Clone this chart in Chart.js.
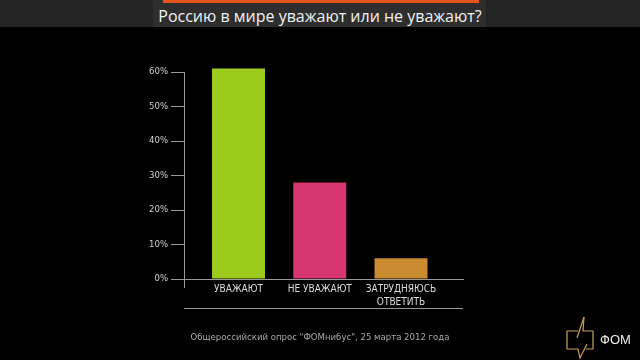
<!DOCTYPE html>
<html lang="ru">
<head>
<meta charset="utf-8">
<title>Россию в мире уважают или не уважают?</title>
<script src="https://cdn.jsdelivr.net/npm/chart.js@4"></script>
<style>
  html, body { margin: 0; padding: 0; background: #000; }
  #stage { position: relative; width: 640px; height: 360px; overflow: hidden; background: #000; }
  #chart { position: absolute; left: 0; top: 0; }
  .band { position: absolute; left: 0; top: 0; width: 640px; height: 27px; background: #252525; }
  .box { position: absolute; left: 153px; top: 0; width: 333px; height: 27px; background: #2e2e2e; }
  .accent { position: absolute; left: 163px; top: 0; width: 316px; height: 3px; background: #e4541c; }
  .title { position: absolute; left: 0; top: 4px; width: 640px; text-align: center; color: #f2f2f2;
           font: 16px "Open Sans", sans-serif; line-height: 24px; }
  .source { position: absolute; left: 0; top: 331px; width: 640px; text-align: center; color: #a8a8a8;
            font-family: "DejaVu Sans Condensed", "DejaVu Sans", sans-serif; font-size: 9.5px; font-stretch: condensed; }
  .logo { position: absolute; left: 564px; top: 314px; }
  .logo-text { position: absolute; left: 600px; top: 332px; color: #eee; font: 13px "Liberation Sans", sans-serif; }
</style>
</head>
<body>
<div id="stage">
  <canvas id="chart" width="640" height="360"></canvas>
  <div class="band"></div>
  <div class="box"></div>
  <div class="accent"></div>
  <div class="title">Россию в мире уважают или не уважают?</div>
  <div class="source">Общероссийский опрос "ФОМнибус", 25 марта 2012 года</div>
  <svg class="logo" width="36" height="46" viewBox="0 0 36 46">
    <path d="M14 17 H3 V35 H14 L16 44 L23 30" fill="none" stroke="#c9a25a" stroke-width="1.2"/>
    <path d="M20 3 L19 17 H29 V35 H22" fill="none" stroke="#c9a25a" stroke-width="1.2"/>
    <path d="M20 3 L13 24" fill="none" stroke="#c9a25a" stroke-width="1.2"/>
  </svg>
  <div class="logo-text">ФОМ</div>
</div>
<script>
const categories = ["УВАЖАЮТ", "НЕ УВАЖАЮТ", ["ЗАТРУДНЯЮСЬ", "ОТВЕТИТЬ"]];
const shares = [61, 28, 6];
const yTicks = [0, 10, 20, 30, 40, 50, 60];
const barColors = ["#9ccb1d", "#d6356f", "#c98a30"];

const axisColor = "#9a9a9a";
const narrow = "'DejaVu Sans', sans-serif";

// axis lines that Chart.js does not draw the way the slide does
const axisLines = {
  id: "axisLines",
  afterDraw(chart) {
    const { ctx, chartArea } = chart;
    const y = chart.scales.y;
    ctx.save();
    ctx.strokeStyle = axisColor;
    ctx.lineWidth = 1;
    ctx.beginPath();
    ctx.moveTo(chartArea.left + 0.5, y.getPixelForValue(60));
    ctx.lineTo(chartArea.left + 0.5, chartArea.bottom + 9);
    ctx.moveTo(chartArea.left, chartArea.bottom + 29.5);
    ctx.lineTo(chartArea.right, chartArea.bottom + 29.5);
    ctx.stroke();
    ctx.restore();
  }
};

new Chart(document.getElementById("chart"), {
  type: "bar",
  data: {
    datasets: [
      {
        data: shares.map((v, i) => ({ x: i + 1, y: v })),
        backgroundColor: barColors,
        borderWidth: 0,
        clip: false,
        categoryPercentage: 1,
        barPercentage: 0.652
      }
    ]
  },
  plugins: [axisLines],
  options: {
    responsive: false,
    animation: false,
    layout: { padding: { left: 124, right: 177, top: 72, bottom: 51 } },
    plugins: { legend: { display: false }, tooltip: { enabled: false } },
    scales: {
      x: {
        type: "linear",
        offset: false,
        min: 0.329,
        max: 3.763,
        afterBuildTicks: (scale) => {
          scale.ticks = categories.map((c, i) => ({ value: i + 1 }));
        },
        afterFit: (scale) => { scale.height = 30; },
        grid: { display: false, drawTicks: false },
        border: { display: true, color: axisColor, width: 1 },
        ticks: {
          padding: 4,
          maxRotation: 0,
          autoSkip: false,
          color: "#dcdcdc",
          font: { family: narrow, size: 10, weight: "condensed", lineHeight: 1.3 },
          callback: (value) => categories[Math.round(value) - 1]
        }
      },
      y: {
        min: 0,
        max: 60,
        afterBuildTicks: (scale) => {
          scale.ticks = yTicks.map((v) => ({ value: v }));
        },
        afterFit: (scale) => { scale.width = 60; },
        grid: { drawOnChartArea: false, drawTicks: true, tickLength: 13, color: axisColor },
        border: { display: false },
        ticks: {
          padding: 3,
          color: "#d0d0d0",
          font: { family: narrow, size: 9.5, weight: "condensed" },
          callback: (value) => value + "%"
        }
      }
    }
  }
});
</script>
</body>
</html>
